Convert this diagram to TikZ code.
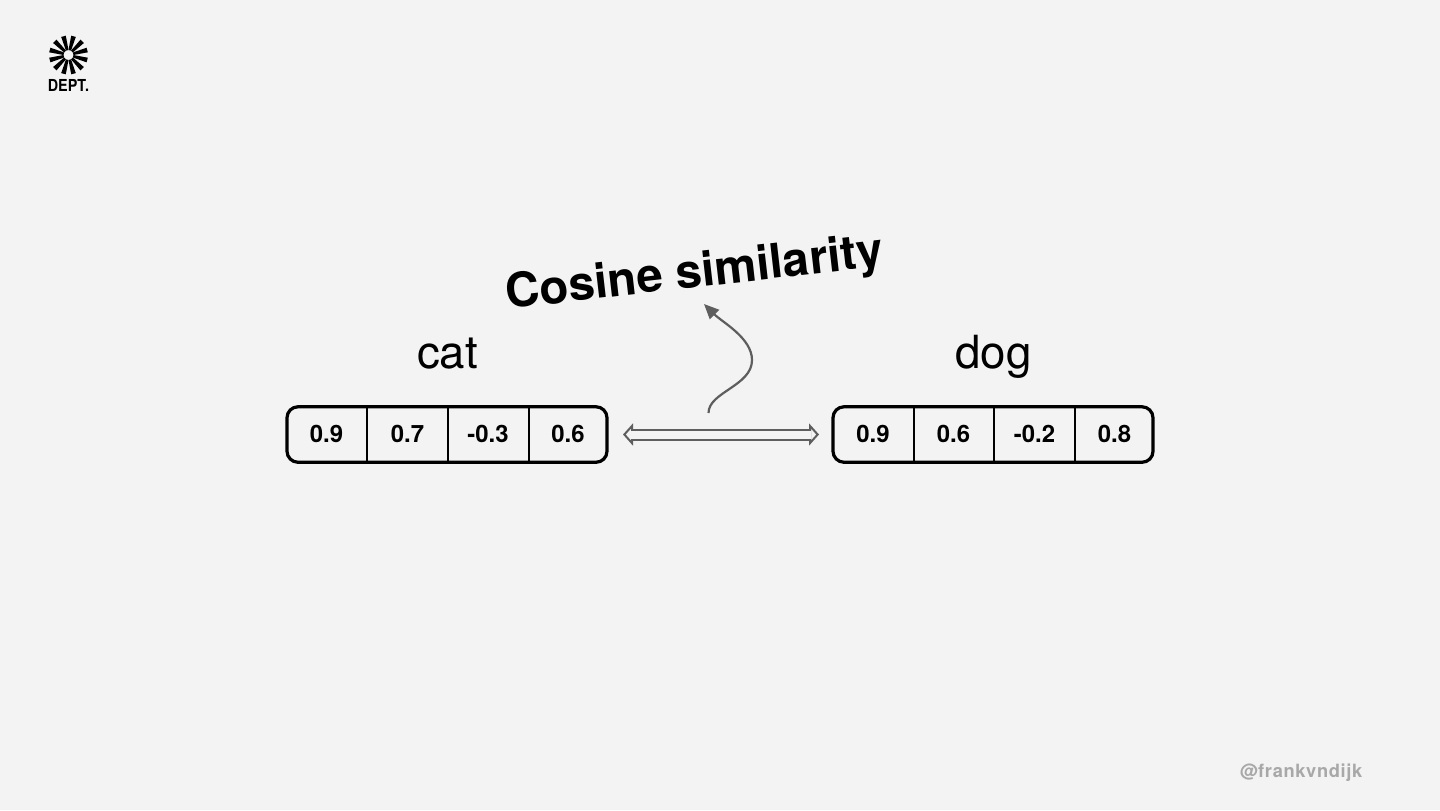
\documentclass[tikz,border=0pt]{standalone}
\usepackage{fontspec}
\setmainfont{TeX Gyre Heros}
\newfontfamily\handlefont[LetterSpace=3.5]{TeX Gyre Heros}
\usetikzlibrary{arrows.meta,positioning,calc}
\definecolor{slideBg}{HTML}{F3F3F3}
\definecolor{linkGray}{HTML}{5E5E5E}
\definecolor{handleGray}{HTML}{A8A8A8}

\begin{document}
\begin{tikzpicture}[
    x=0.1mm, y=-0.1mm,
    every node/.style={inner sep=0pt, outer sep=0pt},
    vector frame/.style={draw=black, rounded corners=1.1mm, line width=0.32mm, minimum width=32.0mm, minimum height=5.55mm},
    value cell/.style={minimum width=8.1mm, minimum height=5.55mm, font=\fontsize{6.8pt}{8pt}\selectfont\bfseries},
    cell edge/.style={draw=black, line width=0.2mm},
    word label/.style={anchor=base, font=\fontsize{13pt}{15pt}\selectfont},
    compare link/.style={draw=linkGray, double=slideBg, line width=0.2mm, double distance=0.8mm, {Triangle[length=1mm,width=2.2mm,fill=slideBg,line width=0.2mm]}-{Triangle[length=1mm,width=2.2mm,fill=slideBg,line width=0.2mm]}, shorten <=1.6mm, shorten >=1.4mm},
    link gap/.style={draw=slideBg, line width=0.8mm, shorten <=2.4mm, shorten >=2.2mm},
    curve link/.style={draw=linkGray, line width=0.22mm, -{Triangle[length=1.5mm,width=1.3mm]}}
  ]
    \node[fill=slideBg, minimum width=144mm, minimum height=81mm, anchor=north west] (slide) at (0,0) {};

    % Logo top left
    \coordinate (logoHub) at (68.5,55);
    \foreach \spokeAngle in {15,45,...,345}
      \fill[black] ($(logoHub)+(\spokeAngle-7:19.5)$) -- ($(logoHub)+(\spokeAngle+7:19.5)$) -- ($(logoHub)+(\spokeAngle+15:5)$) -- ($(logoHub)+(\spokeAngle-15:5)$) -- cycle;
    \node[font=\fontsize{4.7pt}{5pt}\selectfont\bfseries, xscale=0.87] (logoText) at (68.5,85) {DEPT.};

    \node[font=\fontsize{13.5pt}{15pt}\selectfont\bfseries, rotate=6.5] (title) at (694.5,275) {Cosine similarity};

    \node[word label] (catWord) at (447.5,368) {cat};
    \node[word label] (dogWord) at (993.5,368) {dog};

    % Two vectors
    \node[vector frame] (catVector) at (447,434.5) {};
    \node[value cell] (catA) at (326.5,434) {0.9};
    \node[value cell] (catB) at (407.5,434) {0.7};
    \node[value cell] (catC) at (488,434) {-0.3};
    \node[value cell] (catD) at (568,434) {0.6};
    \draw[cell edge] (catA.east |- catVector.north) -- (catA.east |- catVector.south);
    \draw[cell edge] (catB.east |- catVector.north) -- (catB.east |- catVector.south);
    \draw[cell edge] (catC.east |- catVector.north) -- (catC.east |- catVector.south);

    \node[vector frame] (dogVector) at (993,434.5) {};
    \node[value cell] (dogA) at (873,434) {0.9};
    \node[value cell] (dogB) at (953.5,434) {0.6};
    \node[value cell] (dogC) at (1034.5,434) {-0.2};
    \node[value cell] (dogD) at (1114.5,434) {0.8};
    \draw[cell edge] (dogA.east |- dogVector.north) -- (dogA.east |- dogVector.south);
    \draw[cell edge] (dogB.east |- dogVector.north) -- (dogB.east |- dogVector.south);
    \draw[cell edge] (dogC.east |- dogVector.north) -- (dogC.east |- dogVector.south);

    \draw[compare link] (catVector.east) -- (dogVector.west);
    \draw[link gap] (catVector.east) -- (dogVector.west);

    \coordinate (curveStart) at (708.5,413);
    \coordinate (curveBend) at (752,360);
    \coordinate (curveEnd) at (704,304);
    \draw[curve link] (curveStart) .. controls (708.5,392) and (752,386) .. (curveBend) .. controls (752,338) and (722,322) .. (curveEnd);

    \node[font=\handlefont\fontsize{5.2pt}{6pt}\selectfont\bfseries, text=handleGray] (handle) at (1301,773) {@frankvndijk};
  \end{tikzpicture}
\end{document}
